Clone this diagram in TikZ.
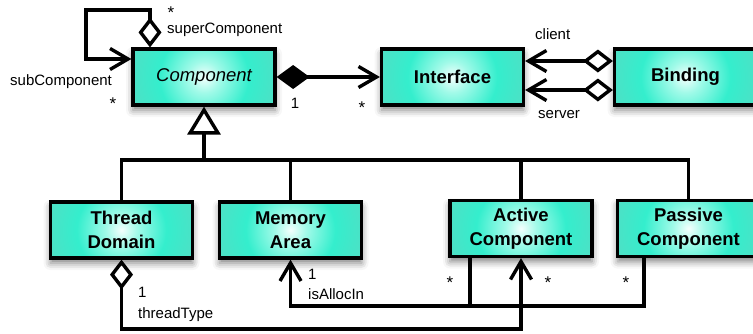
\documentclass[tikz,border=0pt]{standalone}
\usepackage{fontspec}
\setmainfont{Liberation Sans}
\usetikzlibrary{arrows.meta,shadows.blur}
\definecolor{edgec}{RGB}{136,190,180}
\definecolor{aquac}{RGB}{52,238,205}
\definecolor{ringc}{RGB}{95,215,192}
\definecolor{midc}{RGB}{160,250,232}
\definecolor{cenc}{RGB}{244,255,253}
\pgfdeclareradialshading{boxshade}{\pgfpoint{0bp}{0bp}}{color(0bp)=(cenc); color(5bp)=(midc); color(14bp)=(aquac); color(30bp)=(ringc); color(50bp)=(edgec)}
\tikzset{
  box/.style={draw, line width=3.2pt, minimum width=142pt, minimum height=56pt,
    fill=edgec, align=center, inner sep=2pt,
    font=\bfseries\fontsize{18.5}{24}\selectfont,
    blur shadow={shadow xshift=0pt, shadow yshift=-5pt, shadow blur radius=7pt, shadow opacity=50},
    path picture={\shade[shading=boxshade] (path picture bounding box.center) circle (80pt);}},
  assoc/.style={line width=3.4pt},
  lab/.style={font=\fontsize{15}{18}\selectfont, inner sep=0pt},
  ast/.style={font=\fontsize{17}{18}\selectfont, inner sep=0pt},
  barb/.tip={Straight Barb[length=18pt,width=21pt]},
  odiam/.tip={Diamond[fill=white,length=30pt,width=23pt]},
  fdiam/.tip={Diamond[length=33pt,width=24pt]},
  gen/.tip={Triangle[fill=white,length=28pt,width=33pt]}
}
\begin{document}
\begin{tikzpicture}[x=1pt,y=-1pt]
\useasboundingbox (0,0) rectangle (753,333);
% classes
\node[box, font=\itshape\fontsize{18.5}{24}\selectfont] (comp) at (204,77) {Component};
\node[box] (iface) at (452.5,77) {Interface};
\node[box] (bind) at (685.5,77) {Binding};
\node[box] (thread) at (121.5,230) {Thread\\Domain};
\node[box] (mem) at (290.5,230) {Memory\\Area};
\node[box] (active) at (521,228.5) {Active\\Component};
\node[box] (passive) at (688.5,228.5) {Passive\\Component};
% self association
\draw[assoc, odiam-barb] ([xshift=-54pt]comp.north) |- (86,10) |- ([yshift=18pt]comp.west);
% composition
\draw[assoc, fdiam-barb] (comp.east) -- (iface.west);
% client / server
\draw[assoc, odiam-barb] ([yshift=16pt]bind.west) -- ([yshift=16pt]iface.east);
\draw[assoc, odiam-barb] ([yshift=-13pt]bind.west) -- ([yshift=-13pt]iface.east);
% generalization
\coordinate (bus) at (204,160);
\draw[assoc] (thread.north) |- (bus) -| (passive.north);
\draw[assoc] (mem.north) -- (mem.north |- bus);
\draw[assoc] (active.north) -- (active.north |- bus);
\draw[assoc, -gen] (bus) -- (comp.south);
% threadType
\draw[assoc, odiam-barb] (thread.south) -- (thread.south |- 0,329) -| (active.south);
% isAllocIn
\draw[assoc, -barb] ([xshift=-51pt]active.south) |- (mem.south |- 0,306) -- (mem.south);
\draw[assoc] ([xshift=-44.5pt]passive.south) |- ([xshift=-51pt]active.south |- 0,306);
% labels
\node[ast, anchor=base] (m1) at (171,18) {*};
\node[lab, anchor=base west] (r1) at (167,33) {superComponent};
\node[lab, anchor=base west] (r2) at (10,85) {subComponent};
\node[ast, anchor=base] (m2) at (113,109) {*};
\node[lab, anchor=base] (m3) at (295,108) {1};
\node[ast, anchor=base] (m4) at (362,113) {*};
\node[lab, anchor=base west] (r3) at (535,39) {client};
\node[lab, anchor=base west] (r4) at (538,118) {server};
\node[lab, anchor=base west] (m5) at (138,297) {1};
\node[lab, anchor=base west] (r5) at (138,318) {threadType};
\node[lab, anchor=base west] (m6) at (308,279) {1};
\node[lab, anchor=base west] (r6) at (308,299) {isAllocIn};
\node[ast, anchor=base] (m7) at (450,288) {*};
\node[ast, anchor=base] (m8) at (548,288) {*};
\node[ast, anchor=base] (m9) at (626,288) {*};
\end{tikzpicture}
\end{document}
